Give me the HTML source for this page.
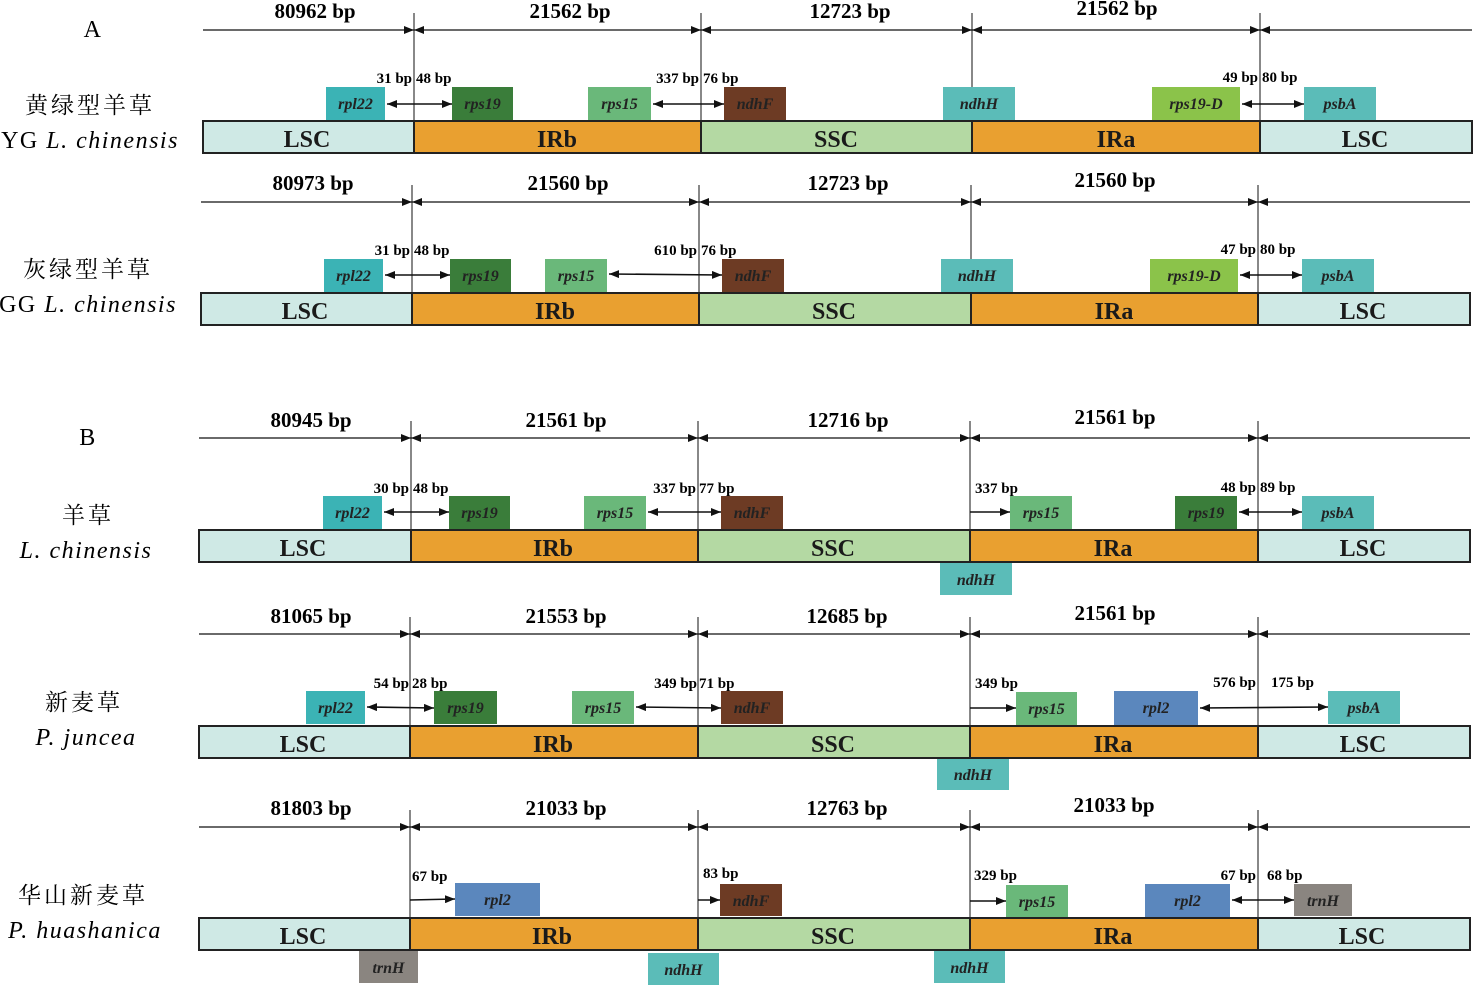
<!DOCTYPE html>
<html><head><meta charset="utf-8"><style>
body{margin:0;background:#fff}
svg{display:block}
.h{font:bold 21px "Liberation Serif",serif;text-anchor:middle}
.b{font:bold 15px "Liberation Serif",serif}
.g{font:italic bold 16px "Liberation Serif",serif;text-anchor:middle;fill:#222}
.r{font:bold 24px "Liberation Serif",serif;text-anchor:middle;fill:#1a1a1a}
.cn{font:23px "Noto Serif CJK SC","Noto Sans CJK SC",serif;text-anchor:middle;letter-spacing:3px}
.la{font-family:"Liberation Serif",serif;font-size:24px;text-anchor:middle;letter-spacing:1.5px}
.it{font-style:italic}
.ln{stroke:#111;stroke-width:1.3;fill:none}
.ar{stroke:#111;stroke-width:1.6;fill:none}
.dv{stroke:#111;stroke-width:1}
.bar{stroke:#222;stroke-width:2}
</style></head><body>
<svg width="1473" height="985" viewBox="0 0 1473 985" xmlns="http://www.w3.org/2000/svg">
<defs>
<marker id="m" viewBox="0 0 10 8" refX="10" refY="4" markerWidth="10" markerHeight="8" markerUnits="userSpaceOnUse" orient="auto-start-reverse"><path d="M0,0L10,4L0,8z" fill="#111"/></marker>
</defs>

<!-- ========== ROW 1 ========== -->
<text x="93" y="37" class="la">A</text>
<text x="90" y="113" class="cn">黄绿型羊草</text>
<text x="90" y="148" class="la">YG <tspan class="it">L. chinensis</tspan></text>
<text x="315" y="18" class="h">80962 bp</text><text x="570" y="18" class="h">21562 bp</text><text x="850" y="18" class="h">12723 bp</text><text x="1117" y="15" class="h">21562 bp</text>
<line x1="203" y1="30" x2="414" y2="30" class="ln" marker-end="url(#m)"/>
<line x1="414" y1="30" x2="701" y2="30" class="ln" marker-start="url(#m)" marker-end="url(#m)"/>
<line x1="701" y1="30" x2="972" y2="30" class="ln" marker-start="url(#m)" marker-end="url(#m)"/>
<line x1="972" y1="30" x2="1260" y2="30" class="ln" marker-start="url(#m)" marker-end="url(#m)"/>
<line x1="1260" y1="30" x2="1472" y2="30" class="ln" marker-start="url(#m)"/>
<g class="dv"><line x1="414" y1="13" x2="414" y2="120"/><line x1="701" y1="13" x2="701" y2="120"/><line x1="972" y1="13" x2="972" y2="120"/><line x1="1260" y1="13" x2="1260" y2="120"/></g>
<rect x="326" y="87" width="59" height="33" fill="#3bb3b5"/><text x="355.5" y="109" class="g">rpl22</text>
<rect x="452" y="87" width="61" height="33" fill="#3a7d3a"/><text x="482.5" y="109" class="g">rps19</text>
<rect x="588" y="87" width="63" height="33" fill="#6ab87a"/><text x="619.5" y="109" class="g">rps15</text>
<rect x="724" y="87" width="62" height="33" fill="#6d3b24"/><text x="755" y="109" class="g">ndhF</text>
<rect x="943" y="87" width="72" height="33" fill="#5bbcb8"/><text x="979" y="109" class="g">ndhH</text>
<rect x="1152" y="87" width="88" height="33" fill="#8bc34a"/><text x="1196" y="109" class="g">rps19-D</text>
<rect x="1304" y="87" width="72" height="33" fill="#5bbcb8"/><text x="1340" y="109" class="g">psbA</text>
<line x1="387" y1="104" x2="452" y2="104" class="ar" marker-start="url(#m)" marker-end="url(#m)"/>
<line x1="653" y1="104" x2="724" y2="104" class="ar" marker-start="url(#m)" marker-end="url(#m)"/>
<line x1="1242" y1="104" x2="1304" y2="104" class="ar" marker-start="url(#m)" marker-end="url(#m)"/>
<text x="412" y="83" class="b" text-anchor="end">31 bp</text><text x="416" y="83" class="b">48 bp</text>
<text x="699" y="83" class="b" text-anchor="end">337 bp</text><text x="703" y="83" class="b">76 bp</text>
<text x="1258" y="82" class="b" text-anchor="end">49 bp</text><text x="1262" y="82" class="b">80 bp</text>
<rect x="203" y="121" width="211" height="32" fill="#cfe9e5" class="bar"/><rect x="414" y="121" width="287" height="32" fill="#e9a030" class="bar"/><rect x="701" y="121" width="271" height="32" fill="#b4d9a3" class="bar"/><rect x="972" y="121" width="288" height="32" fill="#e9a030" class="bar"/><rect x="1260" y="121" width="212" height="32" fill="#cfe9e5" class="bar"/>
<text x="307" y="147" class="r">LSC</text><text x="557" y="147" class="r">IRb</text><text x="836" y="147" class="r">SSC</text><text x="1116" y="147" class="r">IRa</text><text x="1365" y="147" class="r">LSC</text>

<!-- ========== ROW 2 ========== -->
<text x="88" y="277" class="cn">灰绿型羊草</text>
<text x="88" y="312" class="la">GG <tspan class="it">L. chinensis</tspan></text>
<text x="313" y="190" class="h">80973 bp</text><text x="568" y="190" class="h">21560 bp</text><text x="848" y="190" class="h">12723 bp</text><text x="1115" y="187" class="h">21560 bp</text>
<line x1="201" y1="202" x2="412" y2="202" class="ln" marker-end="url(#m)"/>
<line x1="412" y1="202" x2="699" y2="202" class="ln" marker-start="url(#m)" marker-end="url(#m)"/>
<line x1="699" y1="202" x2="971" y2="202" class="ln" marker-start="url(#m)" marker-end="url(#m)"/>
<line x1="971" y1="202" x2="1258" y2="202" class="ln" marker-start="url(#m)" marker-end="url(#m)"/>
<line x1="1258" y1="202" x2="1470" y2="202" class="ln" marker-start="url(#m)"/>
<g class="dv"><line x1="412" y1="185" x2="412" y2="292"/><line x1="699" y1="185" x2="699" y2="292"/><line x1="971" y1="185" x2="971" y2="292"/><line x1="1258" y1="185" x2="1258" y2="292"/></g>
<rect x="324" y="259" width="59" height="33" fill="#3bb3b5"/><text x="353.5" y="281" class="g">rpl22</text>
<rect x="450" y="259" width="61" height="33" fill="#3a7d3a"/><text x="480.5" y="281" class="g">rps19</text>
<rect x="545" y="259" width="62" height="33" fill="#6ab87a"/><text x="576" y="281" class="g">rps15</text>
<rect x="722" y="259" width="62" height="33" fill="#6d3b24"/><text x="753" y="281" class="g">ndhF</text>
<rect x="941" y="259" width="72" height="33" fill="#5bbcb8"/><text x="977" y="281" class="g">ndhH</text>
<rect x="1150" y="259" width="88" height="33" fill="#8bc34a"/><text x="1194" y="281" class="g">rps19-D</text>
<rect x="1302" y="259" width="72" height="33" fill="#5bbcb8"/><text x="1338" y="281" class="g">psbA</text>
<line x1="385" y1="275" x2="450" y2="275" class="ar" marker-start="url(#m)" marker-end="url(#m)"/>
<line x1="609" y1="274" x2="722" y2="275" class="ar" marker-start="url(#m)" marker-end="url(#m)"/>
<line x1="1240" y1="275" x2="1302" y2="275" class="ar" marker-start="url(#m)" marker-end="url(#m)"/>
<text x="410" y="255" class="b" text-anchor="end">31 bp</text><text x="414" y="255" class="b">48 bp</text>
<text x="697" y="255" class="b" text-anchor="end">610 bp</text><text x="701" y="255" class="b">76 bp</text>
<text x="1256" y="254" class="b" text-anchor="end">47 bp</text><text x="1260" y="254" class="b">80 bp</text>
<rect x="201" y="293" width="211" height="32" fill="#cfe9e5" class="bar"/><rect x="412" y="293" width="287" height="32" fill="#e9a030" class="bar"/><rect x="699" y="293" width="272" height="32" fill="#b4d9a3" class="bar"/><rect x="971" y="293" width="287" height="32" fill="#e9a030" class="bar"/><rect x="1258" y="293" width="212" height="32" fill="#cfe9e5" class="bar"/>
<text x="305" y="319" class="r">LSC</text><text x="555" y="319" class="r">IRb</text><text x="834" y="319" class="r">SSC</text><text x="1114" y="319" class="r">IRa</text><text x="1363" y="319" class="r">LSC</text>

<!-- ========== ROW 3 ========== -->
<text x="88" y="445" class="la">B</text>
<text x="88" y="523" class="cn">羊草</text>
<text x="86" y="558" class="la it">L. chinensis</text>
<text x="311" y="427" class="h">80945 bp</text><text x="566" y="427" class="h">21561 bp</text><text x="848" y="427" class="h">12716 bp</text><text x="1115" y="424" class="h">21561 bp</text>
<line x1="199" y1="438" x2="411" y2="438" class="ln" marker-end="url(#m)"/>
<line x1="411" y1="438" x2="698" y2="438" class="ln" marker-start="url(#m)" marker-end="url(#m)"/>
<line x1="698" y1="438" x2="970" y2="438" class="ln" marker-start="url(#m)" marker-end="url(#m)"/>
<line x1="970" y1="438" x2="1258" y2="438" class="ln" marker-start="url(#m)" marker-end="url(#m)"/>
<line x1="1258" y1="438" x2="1470" y2="438" class="ln" marker-start="url(#m)"/>
<g class="dv"><line x1="411" y1="421" x2="411" y2="530"/><line x1="698" y1="421" x2="698" y2="530"/><line x1="970" y1="421" x2="970" y2="530"/><line x1="1258" y1="421" x2="1258" y2="530"/></g>
<rect x="323" y="496" width="59" height="33" fill="#3bb3b5"/><text x="352.5" y="518" class="g">rpl22</text>
<rect x="449" y="496" width="61" height="33" fill="#3a7d3a"/><text x="479.5" y="518" class="g">rps19</text>
<rect x="584" y="496" width="62" height="33" fill="#6ab87a"/><text x="615" y="518" class="g">rps15</text>
<rect x="721" y="496" width="62" height="33" fill="#6d3b24"/><text x="752" y="518" class="g">ndhF</text>
<rect x="1010" y="496" width="62" height="33" fill="#6ab87a"/><text x="1041" y="518" class="g">rps15</text>
<rect x="1175" y="496" width="62" height="33" fill="#3a7d3a"/><text x="1206" y="518" class="g">rps19</text>
<rect x="1302" y="496" width="72" height="33" fill="#5bbcb8"/><text x="1338" y="518" class="g">psbA</text>
<rect x="940" y="563" width="72" height="32" fill="#5bbcb8"/><text x="976" y="585" class="g">ndhH</text>
<line x1="384" y1="512" x2="449" y2="512" class="ar" marker-start="url(#m)" marker-end="url(#m)"/>
<line x1="648" y1="512" x2="721" y2="512" class="ar" marker-start="url(#m)" marker-end="url(#m)"/>
<line x1="970" y1="512" x2="1010" y2="512" class="ar" marker-end="url(#m)"/>
<line x1="1239" y1="512" x2="1302" y2="512" class="ar" marker-start="url(#m)" marker-end="url(#m)"/>
<text x="409" y="493" class="b" text-anchor="end">30 bp</text><text x="413" y="493" class="b">48 bp</text>
<text x="696" y="493" class="b" text-anchor="end">337 bp</text><text x="699" y="493" class="b">77 bp</text>
<text x="975" y="493" class="b">337 bp</text>
<text x="1256" y="492" class="b" text-anchor="end">48 bp</text><text x="1260" y="492" class="b">89 bp</text>
<rect x="199" y="530" width="212" height="32" fill="#cfe9e5" class="bar"/><rect x="411" y="530" width="287" height="32" fill="#e9a030" class="bar"/><rect x="698" y="530" width="272" height="32" fill="#b4d9a3" class="bar"/><rect x="970" y="530" width="288" height="32" fill="#e9a030" class="bar"/><rect x="1258" y="530" width="212" height="32" fill="#cfe9e5" class="bar"/>
<text x="303" y="556" class="r">LSC</text><text x="553" y="556" class="r">IRb</text><text x="833" y="556" class="r">SSC</text><text x="1113" y="556" class="r">IRa</text><text x="1363" y="556" class="r">LSC</text>

<!-- ========== ROW 4 ========== -->
<text x="84" y="710" class="cn">新麦草</text>
<text x="86" y="745" class="la it">P. juncea</text>
<text x="311" y="623" class="h">81065 bp</text><text x="566" y="623" class="h">21553 bp</text><text x="847" y="623" class="h">12685 bp</text><text x="1115" y="620" class="h">21561 bp</text>
<line x1="199" y1="634" x2="410" y2="634" class="ln" marker-end="url(#m)"/>
<line x1="410" y1="634" x2="698" y2="634" class="ln" marker-start="url(#m)" marker-end="url(#m)"/>
<line x1="698" y1="634" x2="970" y2="634" class="ln" marker-start="url(#m)" marker-end="url(#m)"/>
<line x1="970" y1="634" x2="1258" y2="634" class="ln" marker-start="url(#m)" marker-end="url(#m)"/>
<line x1="1258" y1="634" x2="1470" y2="634" class="ln" marker-start="url(#m)"/>
<g class="dv"><line x1="410" y1="617" x2="410" y2="726"/><line x1="698" y1="617" x2="698" y2="726"/><line x1="970" y1="617" x2="970" y2="726"/><line x1="1258" y1="617" x2="1258" y2="726"/></g>
<rect x="306" y="691" width="59" height="33" fill="#3bb3b5"/><text x="335.5" y="713" class="g">rpl22</text>
<rect x="434" y="691" width="63" height="33" fill="#3a7d3a"/><text x="465.5" y="713" class="g">rps19</text>
<rect x="572" y="691" width="62" height="33" fill="#6ab87a"/><text x="603" y="713" class="g">rps15</text>
<rect x="721" y="691" width="62" height="33" fill="#6d3b24"/><text x="752" y="713" class="g">ndhF</text>
<rect x="1016" y="692" width="61" height="33" fill="#6ab87a"/><text x="1046.5" y="714" class="g">rps15</text>
<rect x="1114" y="691" width="84" height="34" fill="#5b87bd"/><text x="1156" y="713" class="g">rpl2</text>
<rect x="1328" y="691" width="72" height="33" fill="#5bbcb8"/><text x="1364" y="713" class="g">psbA</text>
<rect x="937" y="758" width="72" height="32" fill="#5bbcb8"/><text x="973" y="780" class="g">ndhH</text>
<line x1="367" y1="707" x2="434" y2="708" class="ar" marker-start="url(#m)" marker-end="url(#m)"/>
<line x1="636" y1="707" x2="721" y2="708" class="ar" marker-start="url(#m)" marker-end="url(#m)"/>
<line x1="970" y1="708" x2="1016" y2="708" class="ar" marker-end="url(#m)"/>
<line x1="1200" y1="708" x2="1328" y2="707" class="ar" marker-start="url(#m)" marker-end="url(#m)"/>
<text x="409" y="688" class="b" text-anchor="end">54 bp</text><text x="412" y="688" class="b">28 bp</text>
<text x="697" y="688" class="b" text-anchor="end">349 bp</text><text x="699" y="688" class="b">71 bp</text>
<text x="975" y="688" class="b">349 bp</text>
<text x="1256" y="687" class="b" text-anchor="end">576 bp</text><text x="1271" y="687" class="b">175 bp</text>
<rect x="199" y="726" width="211" height="32" fill="#cfe9e5" class="bar"/><rect x="410" y="726" width="288" height="32" fill="#e9a030" class="bar"/><rect x="698" y="726" width="272" height="32" fill="#b4d9a3" class="bar"/><rect x="970" y="726" width="288" height="32" fill="#e9a030" class="bar"/><rect x="1258" y="726" width="212" height="32" fill="#cfe9e5" class="bar"/>
<text x="303" y="752" class="r">LSC</text><text x="553" y="752" class="r">IRb</text><text x="833" y="752" class="r">SSC</text><text x="1113" y="752" class="r">IRa</text><text x="1363" y="752" class="r">LSC</text>

<!-- ========== ROW 5 ========== -->
<text x="83" y="903" class="cn">华山新麦草</text>
<text x="85" y="938" class="la it">P. huashanica</text>
<text x="311" y="815" class="h">81803 bp</text><text x="566" y="815" class="h">21033 bp</text><text x="847" y="815" class="h">12763 bp</text><text x="1114" y="812" class="h">21033 bp</text>
<line x1="199" y1="827" x2="410" y2="827" class="ln" marker-end="url(#m)"/>
<line x1="410" y1="827" x2="698" y2="827" class="ln" marker-start="url(#m)" marker-end="url(#m)"/>
<line x1="698" y1="827" x2="970" y2="827" class="ln" marker-start="url(#m)" marker-end="url(#m)"/>
<line x1="970" y1="827" x2="1258" y2="827" class="ln" marker-start="url(#m)" marker-end="url(#m)"/>
<line x1="1258" y1="827" x2="1470" y2="827" class="ln" marker-start="url(#m)"/>
<g class="dv"><line x1="410" y1="810" x2="410" y2="918"/><line x1="698" y1="810" x2="698" y2="918"/><line x1="970" y1="810" x2="970" y2="918"/><line x1="1258" y1="810" x2="1258" y2="918"/></g>
<rect x="455" y="883" width="85" height="33" fill="#5b87bd"/><text x="497.5" y="905" class="g">rpl2</text>
<rect x="720" y="884" width="62" height="32" fill="#6d3b24"/><text x="751" y="906" class="g">ndhF</text>
<rect x="1006" y="885" width="62" height="32" fill="#6ab87a"/><text x="1037" y="907" class="g">rps15</text>
<rect x="1145" y="884" width="85" height="33" fill="#5b87bd"/><text x="1187.5" y="906" class="g">rpl2</text>
<rect x="1294" y="884" width="58" height="32" fill="#8a8580"/><text x="1323" y="906" class="g">trnH</text>
<rect x="359" y="951" width="59" height="32" fill="#8a8580"/><text x="388.5" y="973" class="g">trnH</text>
<rect x="648" y="953" width="71" height="32" fill="#5bbcb8"/><text x="683.5" y="975" class="g">ndhH</text>
<rect x="934" y="951" width="71" height="32" fill="#5bbcb8"/><text x="969.5" y="973" class="g">ndhH</text>
<line x1="410" y1="900" x2="455" y2="899" class="ar" marker-end="url(#m)"/>
<line x1="698" y1="900" x2="720" y2="900" class="ar" marker-end="url(#m)"/>
<line x1="970" y1="901" x2="1006" y2="901" class="ar" marker-end="url(#m)"/>
<line x1="1232" y1="900" x2="1294" y2="900" class="ar" marker-start="url(#m)" marker-end="url(#m)"/>
<text x="412" y="881" class="b">67 bp</text>
<text x="703" y="878" class="b">83 bp</text>
<text x="974" y="880" class="b">329 bp</text>
<text x="1256" y="880" class="b" text-anchor="end">67 bp</text><text x="1267" y="880" class="b">68 bp</text>
<rect x="199" y="918" width="211" height="32" fill="#cfe9e5" class="bar"/><rect x="410" y="918" width="288" height="32" fill="#e9a030" class="bar"/><rect x="698" y="918" width="272" height="32" fill="#b4d9a3" class="bar"/><rect x="970" y="918" width="288" height="32" fill="#e9a030" class="bar"/><rect x="1258" y="918" width="212" height="32" fill="#cfe9e5" class="bar"/>
<text x="303" y="944" class="r">LSC</text><text x="552" y="944" class="r">IRb</text><text x="833" y="944" class="r">SSC</text><text x="1113" y="944" class="r">IRa</text><text x="1362" y="944" class="r">LSC</text>
</svg>
</body></html>
